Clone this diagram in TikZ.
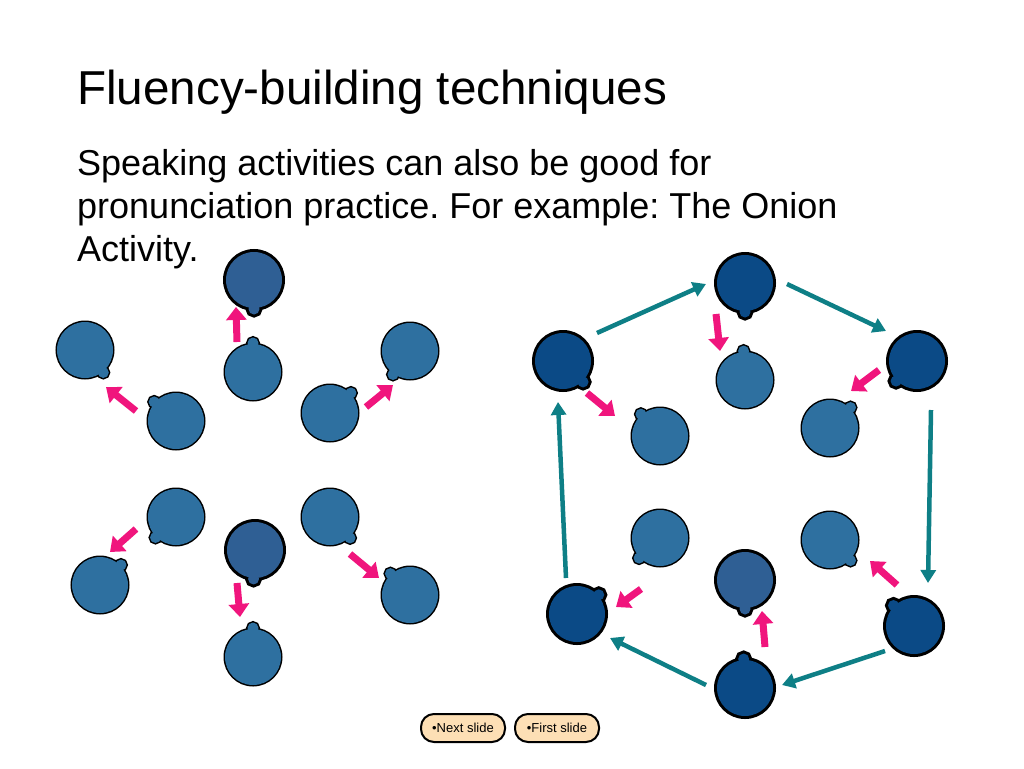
\documentclass[tikz,border=0pt]{standalone}
\usepackage{fontspec}
\setmainfont{Liberation Sans}
\frenchspacing
\begin{document}
\begin{tikzpicture}[x=1pt,y=-1pt,
 pk/.style={-{Triangle[length=13pt,width=20pt]},line width=7pt,draw={rgb,255:red,240;green,21;blue,125}},
 tl/.style={-{Triangle[length=13pt,width=15pt]},line width=4.5pt,draw={rgb,255:red,14;green,127;blue,134}},
 btn/.style={draw,line width=2pt,rounded corners=13pt,fill={rgb,255:red,253;green,223;blue,181},minimum width=84pt,minimum height=28pt,inner sep=2pt,font=\fontsize{13}{14}\selectfont}]
\usetikzlibrary{arrows.meta,calc}
\definecolor{hA}{RGB}{46,112,160}
\definecolor{hB}{RGB}{47,95,148}
\definecolor{hC}{RGB}{11,74,134}
\useasboundingbox (0,0) rectangle (1024,768);
\newcommand\hd[6]{%
 \path (#1,#2) coordinate (c) -- (#3,#4) coordinate (n);
 \coordinate (m) at ($(c)!29pt!(n)$);
 \draw[line width=#6] (c) circle (28) (m) circle (5.5);
 \fill[#5] (c) circle (28) (m) circle (5.5);}
\node[anchor=base west,font=\fontsize{47.6}{47.6}\selectfont,inner sep=0] (t) at (77,104) {Fluency-building techniques};
\node[anchor=base west,align=left,font=\fontsize{36}{43}\selectfont,inner sep=0] (b) at (77,261) {Speaking activities can also be good for\\pronunciation practice. For example: The Onion\\Activity.};
% left group
\hd{254}{280}{254}{320}{hB}{6pt}
\hd{253}{372}{253}{330}{hA}{3pt}
\hd{85}{350}{107}{377}{hA}{3pt}
\hd{176}{421}{152}{400}{hA}{3pt}
\hd{330}{413}{353}{391}{hA}{3pt}
\hd{410}{351}{389}{380}{hA}{3pt}
\hd{176}{517}{154}{539}{hA}{3pt}
\hd{100}{585}{122}{564}{hA}{3pt}
\hd{255}{550}{253}{590}{hB}{6pt}
\hd{330}{517}{353}{541}{hA}{3pt}
\hd{410}{595}{389}{572}{hA}{3pt}
\hd{253}{657}{253}{615}{hA}{3pt}
\draw[pk] (237,342) -- (236,307);
\draw[pk] (136,411) -- (106,387);
\draw[pk] (366,407) -- (393,385);
\draw[pk] (136,529) -- (110,552);
\draw[pk] (237,583) -- (240,617);
\draw[pk] (350,554) -- (379,578);
% right group
\hd{745}{283}{745}{325}{hC}{6pt}
\hd{563}{361}{586}{385}{hC}{6pt}
\hd{917}{361}{893}{384}{hC}{6pt}
\hd{577}{614}{602}{592}{hC}{6pt}
\hd{914}{626}{892}{604}{hC}{6pt}
\hd{745}{688}{743}{645}{hC}{6pt}
\hd{745}{380}{743}{340}{hA}{3pt}
\hd{660}{436}{639}{412}{hA}{3pt}
\hd{830}{428}{853}{405}{hA}{3pt}
\hd{660}{538}{636}{561}{hA}{3pt}
\hd{830}{540}{853}{563}{hA}{3pt}
\hd{745}{580}{745}{620}{hB}{6pt}
\draw[pk] (716,314) -- (720,351);
\draw[pk] (587,393) -- (615,416);
\draw[pk] (879,370) -- (851,391);
\draw[pk] (641,589) -- (616,607);
\draw[pk] (897,585) -- (870,561);
\draw[pk] (765,647) -- (762,611);
\draw[tl] (597,333) -- (706,284);
\draw[tl] (787,284) -- (886,331);
\draw[tl] (931,410) -- (928,583);
\draw[tl] (885,651) -- (782,685);
\draw[tl] (706,685) -- (610,638);
\draw[tl] (566,578) -- (558,402);
\node[btn] (nx) at (463,728) {•Next slide};
\node[btn] (fs) at (557,728) {•First slide};
\end{tikzpicture}
\end{document}
